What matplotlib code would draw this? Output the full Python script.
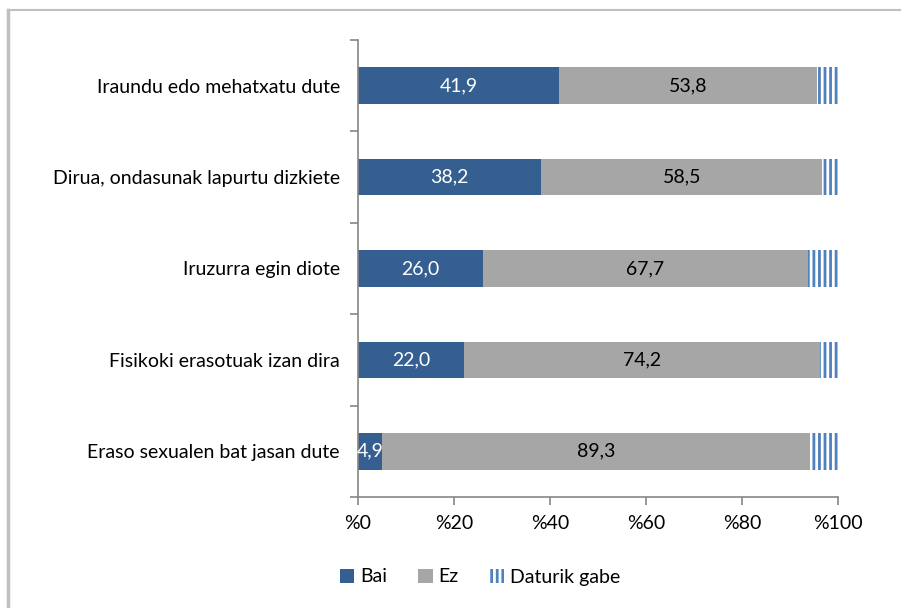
import matplotlib
matplotlib.use("Agg")
import matplotlib.pyplot as plt
from matplotlib.lines import Line2D
import numpy as np

categories = ["Iraundu edo mehatxatu dute",
              "Dirua, ondasunak lapurtu dizkiete",
              "Iruzurra egin diote",
              "Fisikoki erasotuak izan dira",
              "Eraso sexualen bat jasan dute"]
bai = [41.9, 38.2, 26.0, 22.0, 4.9]
ez = [53.8, 58.5, 67.7, 74.2, 89.3]
daturik_gabe = [4.3, 3.3, 6.3, 3.8, 5.8]
xticks = [0, 20, 40, 60, 80, 100]
xticklabels = ["%0", "%20", "%40", "%60", "%80", "%100"]

c_bai = "#365F91"
c_ez = "#A6A6A6"
c_na = "#4F81BD"

plt.rcParams['font.family'] = ['Lato', 'DejaVu Sans']
plt.rcParams['hatch.linewidth'] = 2.0
fs = 14

fig = plt.figure(figsize=(9.01, 6.08), dpi=100)
ax = fig.add_axes([358 / 901, 1 - 497 / 608, 480 / 901, 457 / 608])

y = np.arange(len(categories))[::-1]
h = 0.40
ax.barh(y, bai, height=h, color=c_bai, label="Bai")
ax.barh(y, ez, left=bai, height=h, color=c_ez, label="Ez")
left2 = np.array(bai) + np.array(ez)
ax.barh(y, daturik_gabe, left=left2, height=h, color="white",
        edgecolor=c_na, hatch="|||", linewidth=0, label="Daturik gabe")

for yi, b, e in zip(y, bai, ez):
    ax.text(b / 2, yi, f"{b:.1f}".replace(".", ","), ha="center", va="center",
            color="white", fontsize=fs)
    ax.text(b + e / 2, yi, f"{e:.1f}".replace(".", ","), ha="center", va="center",
            color="black", fontsize=fs)

ax.set_xlim(0, 100)
ax.set_ylim(-0.5, len(categories) - 0.5)
ax.set_xticks(xticks)
ax.set_xticklabels(xticklabels, fontsize=fs)
ax.set_yticks(y)
ax.set_yticklabels(categories, fontsize=fs)
ax.set_yticks(np.arange(-0.5, len(categories)), minor=True)
ax.tick_params(axis="y", which="major", length=0, pad=13)
ax.tick_params(axis="y", which="minor", length=6, color="#868686", width=1.2)
ax.tick_params(axis="x", length=6, color="#868686", width=1.2, pad=7)
for s in ["top", "right"]:
    ax.spines[s].set_visible(False)
for s in ["left", "bottom"]:
    ax.spines[s].set_color("#868686")
    ax.spines[s].set_linewidth(1.2)

fig.legend(*ax.get_legend_handles_labels(), loc="center",
           bbox_to_anchor=(480 / 901, 1 - 577 / 608), ncol=3, frameon=False,
           fontsize=fs, handlelength=0.75, handleheight=0.75, handletextpad=0.3,
           columnspacing=1.6)

# outer frame (left and top only)
fig.add_artist(Line2D([8 / 901, 8 / 901], [0, 1 - 10 / 608], color="#BFBFBF", lw=2.5,
                      transform=fig.transFigure))
fig.add_artist(Line2D([8 / 901, 1], [1 - 10 / 608, 1 - 10 / 608], color="#BFBFBF", lw=1.5,
                      transform=fig.transFigure))

fig.savefig("out.png", dpi=100)
